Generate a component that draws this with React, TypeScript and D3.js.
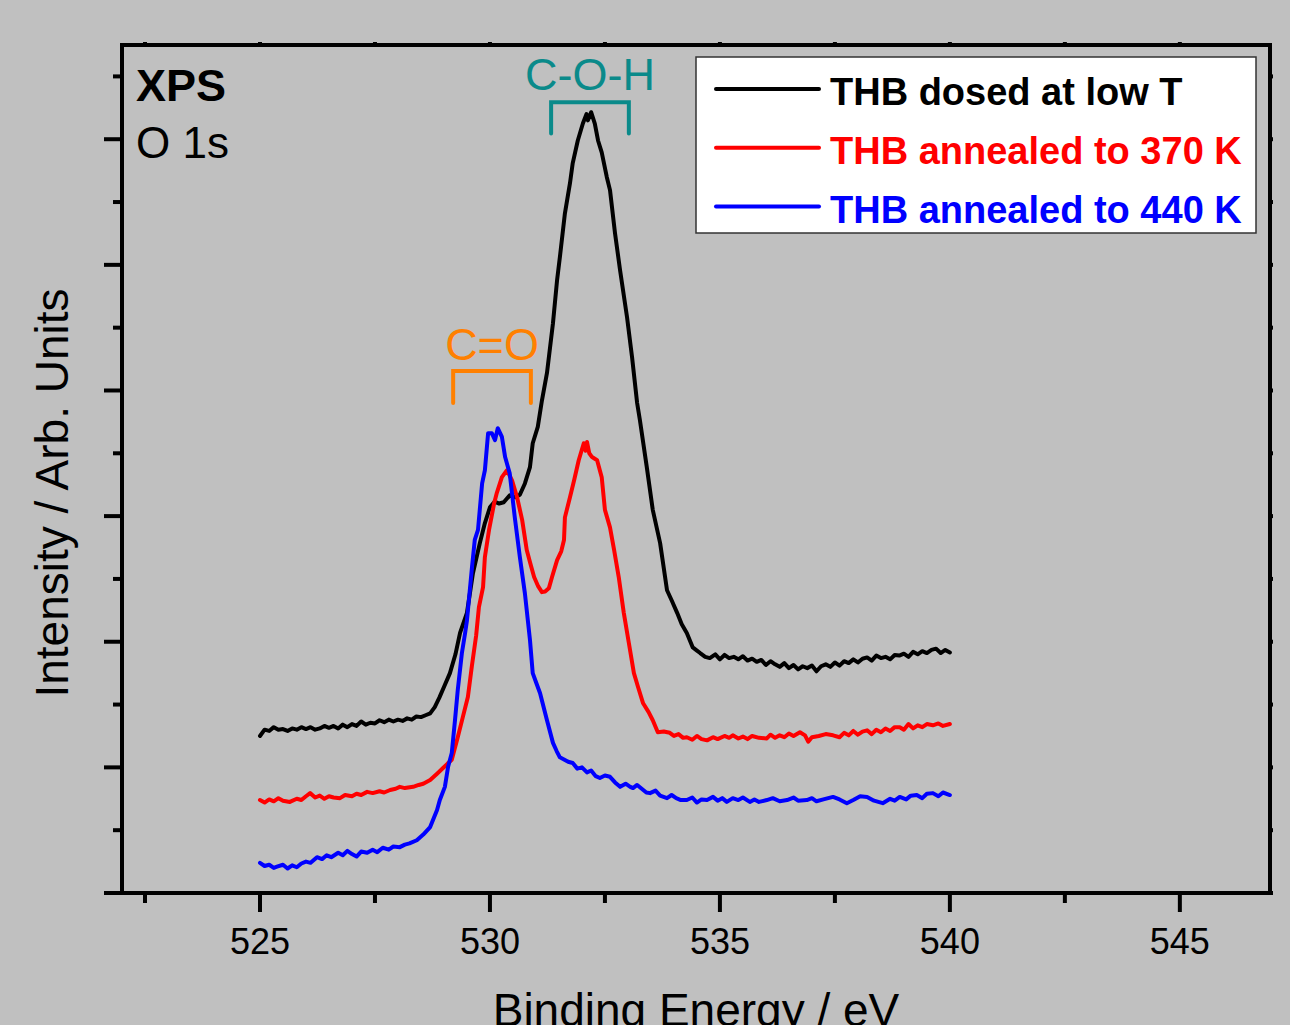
import React, { useEffect, useRef } from 'react';
import * as d3 from 'd3';

type Pt = [number, number];

// binding energy (eV), intensity (arb. units)
const dosedLowT: Pt[] = [
  [525.0, 1250], [525.1, 1300], [525.2, 1290], [525.3, 1320], [525.4, 1300], [525.5, 1305], [525.6, 1290],
  [525.7, 1310], [525.8, 1300], [525.9, 1320], [526.0, 1305], [526.1, 1320], [526.2, 1300], [526.3, 1310],
  [526.4, 1330], [526.5, 1315], [526.6, 1330], [526.7, 1310], [526.8, 1340], [526.9, 1320], [527.0, 1345],
  [527.1, 1330], [527.2, 1365], [527.3, 1340], [527.4, 1355], [527.5, 1350], [527.6, 1375], [527.7, 1360],
  [527.8, 1380], [527.9, 1365], [528.0, 1380], [528.1, 1370], [528.2, 1390], [528.3, 1380], [528.4, 1405],
  [528.5, 1400], [528.6, 1415], [528.7, 1430], [528.8, 1480], [528.9, 1555], [529.0, 1640], [529.13, 1750],
  [529.25, 1900], [529.35, 2070], [529.5, 2230], [529.63, 2545], [529.78, 2785], [529.89, 2945], [530.0, 3070],
  [530.1, 3115], [530.2, 3100], [530.3, 3110], [530.43, 3165], [530.55, 3150], [530.65, 3170], [530.76, 3260],
  [530.87, 3390], [530.93, 3580], [531.04, 3710], [531.13, 3920], [531.24, 4140], [531.37, 4535], [531.46, 4880],
  [531.52, 5060], [531.63, 5410], [531.74, 5650], [531.8, 5810], [531.91, 5990], [532.02, 6125], [532.1, 6200],
  [532.13, 6150], [532.2, 6215], [532.28, 6125], [532.35, 5990], [532.43, 5895], [532.54, 5700], [532.61, 5595],
  [532.72, 5250], [532.83, 4955], [532.98, 4585], [533.09, 4265], [533.2, 3900], [533.26, 3765], [533.41, 3390],
  [533.54, 3050], [533.7, 2785], [533.85, 2410], [533.95, 2330], [534.07, 2230], [534.17, 2140], [534.28, 2070],
  [534.41, 1955], [534.5, 1930], [534.57, 1910], [534.68, 1880], [534.78, 1870], [534.9, 1900], [535.0, 1860],
  [535.1, 1895], [535.2, 1870], [535.3, 1880], [535.4, 1860], [535.5, 1885], [535.6, 1850], [535.7, 1865],
  [535.8, 1840], [535.9, 1855], [536.0, 1815], [536.1, 1845], [536.2, 1820], [536.3, 1800], [536.4, 1830],
  [536.5, 1790], [536.6, 1815], [536.7, 1780], [536.8, 1805], [536.9, 1790], [537.0, 1810], [537.1, 1765],
  [537.2, 1805], [537.3, 1820], [537.4, 1800], [537.5, 1835], [537.6, 1810], [537.7, 1845], [537.8, 1830],
  [537.9, 1860], [538.0, 1835], [538.1, 1865], [538.2, 1875], [538.3, 1850], [538.4, 1890], [538.5, 1870],
  [538.6, 1880], [538.7, 1860], [538.8, 1895], [538.9, 1890], [539.0, 1905], [539.1, 1880], [539.2, 1920],
  [539.3, 1900], [539.4, 1925], [539.5, 1910], [539.6, 1935], [539.7, 1945], [539.8, 1910], [539.9, 1935],
  [540.0, 1915],
];

const annealed370: Pt[] = [
  [525.0, 740], [525.1, 720], [525.2, 745], [525.3, 730], [525.4, 755], [525.5, 735], [525.65, 725], [525.8, 750],
  [525.9, 740], [526.0, 770], [526.09, 795], [526.2, 760], [526.3, 775], [526.4, 750], [526.5, 770], [526.6, 760],
  [526.74, 755], [526.85, 780], [527.0, 770], [527.1, 790], [527.2, 780], [527.33, 805], [527.45, 795], [527.6, 810],
  [527.7, 800], [527.83, 820], [527.95, 830], [528.04, 845], [528.15, 835], [528.33, 845], [528.45, 860],
  [528.55, 870], [528.7, 900], [528.85, 950], [528.98, 995], [529.08, 1030], [529.17, 1060], [529.3, 1240],
  [529.41, 1400], [529.52, 1560], [529.61, 1815], [529.7, 2050], [529.76, 2275], [529.85, 2435], [529.89, 2675],
  [529.98, 2890], [530.09, 3100], [530.15, 3185], [530.26, 3310], [530.37, 3365], [530.48, 3285], [530.59, 3150],
  [530.7, 2970], [530.8, 2730], [530.88, 2620], [530.96, 2515], [531.05, 2440], [531.13, 2395], [531.2, 2400],
  [531.28, 2425], [531.35, 2515], [531.46, 2650], [531.55, 2720], [531.61, 2810], [531.63, 2990], [531.74, 3150],
  [531.83, 3285], [531.93, 3445], [532.04, 3580], [532.08, 3520], [532.11, 3590], [532.16, 3500], [532.22, 3470],
  [532.33, 3445], [532.43, 3310], [532.5, 3050], [532.61, 2910], [532.7, 2730], [532.8, 2515], [532.91, 2230],
  [533.02, 1990], [533.13, 1750], [533.22, 1640], [533.33, 1510], [533.45, 1440], [533.54, 1375], [533.65, 1280],
  [533.78, 1285], [533.91, 1275], [534.0, 1250], [534.1, 1265], [534.2, 1235], [534.28, 1240], [534.4, 1220],
  [534.5, 1250], [534.6, 1225], [534.72, 1215], [534.85, 1240], [534.95, 1225], [535.1, 1250], [535.2, 1235],
  [535.28, 1255], [535.4, 1230], [535.5, 1245], [535.6, 1225], [535.7, 1250], [535.85, 1235], [536.02, 1230],
  [536.1, 1260], [536.2, 1235], [536.3, 1255], [536.4, 1240], [536.5, 1270], [536.6, 1250], [536.74, 1280],
  [536.85, 1255], [536.92, 1205], [537.0, 1240], [537.15, 1250], [537.3, 1265], [537.46, 1255], [537.6, 1240],
  [537.7, 1275], [537.8, 1255], [537.9, 1290], [538.0, 1260], [538.1, 1285], [538.2, 1295], [538.3, 1265],
  [538.4, 1300], [538.5, 1280], [538.6, 1310], [538.7, 1290], [538.8, 1320], [538.91, 1320], [539.0, 1300],
  [539.1, 1345], [539.2, 1310], [539.3, 1335], [539.4, 1320], [539.5, 1345], [539.63, 1335], [539.75, 1350],
  [539.85, 1330], [540.0, 1345],
];

const annealed440: Pt[] = [
  [525.0, 240], [525.1, 215], [525.2, 225], [525.3, 200], [525.37, 210], [525.5, 225], [525.6, 195], [525.7, 220],
  [525.8, 205], [525.9, 235], [526.0, 250], [526.1, 240], [526.24, 285], [526.35, 270], [526.45, 300], [526.55, 285],
  [526.7, 320], [526.8, 300], [526.9, 335], [527.0, 310], [527.1, 290], [527.2, 330], [527.33, 320], [527.45, 345],
  [527.55, 325], [527.67, 360], [527.8, 345], [527.9, 370], [528.04, 365], [528.15, 385], [528.25, 395],
  [528.41, 420], [528.55, 465], [528.7, 525], [528.85, 660], [528.91, 740], [529.02, 845], [529.09, 1005],
  [529.17, 1115], [529.24, 1375], [529.3, 1615], [529.39, 1910], [529.46, 2070], [529.5, 2170], [529.61, 2595],
  [529.67, 2810], [529.74, 2890], [529.83, 3260], [529.89, 3365], [529.96, 3660], [530.04, 3660], [530.11, 3605],
  [530.17, 3700], [530.26, 3630], [530.33, 3470], [530.43, 3340], [530.54, 2990], [530.65, 2675], [530.76, 2385],
  [530.87, 2015], [530.93, 1750], [531.0, 1680], [531.09, 1590], [531.24, 1375], [531.37, 1195], [531.45, 1130],
  [531.52, 1080], [531.6, 1065], [531.7, 1045], [531.8, 1035], [531.9, 990], [532.0, 1000], [532.11, 960],
  [532.2, 975], [532.3, 930], [532.39, 915], [532.5, 935], [532.61, 925], [532.72, 880], [532.83, 845],
  [532.95, 870], [533.05, 845], [533.11, 835], [533.2, 860], [533.3, 830], [533.4, 800], [533.48, 795],
  [533.6, 815], [533.7, 775], [533.85, 755], [533.95, 780], [534.05, 755], [534.15, 740], [534.28, 740],
  [534.4, 760], [534.5, 720], [534.6, 745], [534.72, 740], [534.85, 765], [534.95, 735], [535.05, 755],
  [535.15, 725], [535.28, 755], [535.4, 740], [535.5, 760], [535.65, 725], [535.75, 745], [535.85, 725],
  [536.02, 740], [536.15, 755], [536.3, 730], [536.46, 740], [536.6, 760], [536.7, 735], [536.89, 740],
  [537.0, 755], [537.1, 730], [537.25, 745], [537.46, 765], [537.6, 745], [537.76, 715], [537.9, 740],
  [538.05, 770], [538.2, 765], [538.35, 735], [538.54, 715], [538.7, 750], [538.8, 735], [538.91, 765],
  [539.05, 745], [539.15, 775], [539.28, 780], [539.4, 755], [539.5, 790], [539.63, 795], [539.75, 770],
  [539.85, 800], [540.0, 780],
];

const seriesNames = ['THB dosed at low T', 'THB annealed to 370 K', 'THB annealed to 440 K'];
const seriesColors = ['#000000', '#ff0000', '#0000ff'];

const xMajorTicks = [525, 530, 535, 540, 545];
const xMinorTicks = [522.5, 527.5, 532.5, 537.5, 542.5];
const yMajorTicks = [0, 1000, 2000, 3000, 4000, 5000, 6000];
const yMinorTicks = [500, 1500, 2500, 3500, 4500, 5500, 6500];

// peak assignment brackets: energy span, bracket top/foot and label baseline (intensity)
const peakLabels = [
  { text: 'C-O-H', color: '#0a8a8a', from: 531.33, to: 533.02, top: 6295, foot: 6045, label: 6390 },
  { text: 'C=O', color: '#ff8000', from: 529.2, to: 530.89, top: 4155, foot: 3900, label: 4240 },
];

export default function App() {
  const svgRef = useRef<SVGSVGElement>(null);

  useEffect(() => {
    if (!svgRef.current) return;
    const svg = d3.select(svgRef.current);
    svg.selectAll('*').remove();

    const width = 1290;
    const height = 1025;
    const left = 122, right = 1270, top = 45, bottom = 893;
    const font = '"Liberation Sans", Arial, sans-serif';

    const x = d3.scaleLinear().domain([522, 546.96]).range([left, right]);
    const y = d3.scaleLinear().domain([0, 6750]).range([bottom, top]);

    svg.append('rect').attr('width', width).attr('height', height).attr('fill', '#c0c0c0');

    // curves
    const line = d3.line<Pt>()
      .x((d: Pt) => x(d[0]))
      .y((d: Pt) => y(d[1]));

    const series = [dosedLowT, annealed370, annealed440];
    series.forEach((s, i) => {
      svg.append('path')
        .datum(s)
        .attr('fill', 'none')
        .attr('stroke', seriesColors[i])
        .attr('stroke-width', 4)
        .attr('stroke-linejoin', 'round')
        .attr('stroke-linecap', 'round')
        .attr('d', line);
    });

    // ticks
    const ticks = svg.append('g').attr('stroke', '#000').attr('stroke-width', 4);
    xMajorTicks.forEach((t) => {
      ticks.append('line').attr('x1', x(t)).attr('x2', x(t)).attr('y1', bottom).attr('y2', bottom + 19);
      ticks.append('line').attr('x1', x(t)).attr('x2', x(t)).attr('y1', top).attr('y2', top - 3);
    });
    xMinorTicks.forEach((t) => {
      ticks.append('line').attr('x1', x(t)).attr('x2', x(t)).attr('y1', bottom).attr('y2', bottom + 10);
      ticks.append('line').attr('x1', x(t)).attr('x2', x(t)).attr('y1', top).attr('y2', top - 3);
    });
    yMajorTicks.forEach((t) => {
      ticks.append('line').attr('x1', left).attr('x2', left - 18).attr('y1', y(t)).attr('y2', y(t));
      ticks.append('line').attr('x1', right).attr('x2', right + 3).attr('y1', y(t)).attr('y2', y(t));
    });
    yMinorTicks.forEach((t) => {
      ticks.append('line').attr('x1', left).attr('x2', left - 9).attr('y1', y(t)).attr('y2', y(t));
      ticks.append('line').attr('x1', right).attr('x2', right + 3).attr('y1', y(t)).attr('y2', y(t));
    });

    // frame
    svg.append('rect')
      .attr('x', left).attr('y', top)
      .attr('width', right - left).attr('height', bottom - top)
      .attr('fill', 'none').attr('stroke', '#000').attr('stroke-width', 4);

    // tick labels
    svg.append('g').selectAll('text')
      .data(xMajorTicks)
      .join('text')
      .attr('x', (d: number) => x(d))
      .attr('y', 954)
      .attr('text-anchor', 'middle')
      .attr('font-family', font)
      .attr('font-size', 36)
      .text((d: number) => String(d));

    // axis titles (the x title runs off the bottom edge, as in the original figure)
    svg.append('text')
      .attr('x', (left + right) / 2).attr('y', 1026)
      .attr('text-anchor', 'middle')
      .attr('font-family', font).attr('font-size', 46)
      .text('Binding Energy / eV');

    svg.append('text')
      .attr('transform', 'translate(68,493) rotate(-90)')
      .attr('text-anchor', 'middle')
      .attr('font-family', font).attr('font-size', 46)
      .text('Intensity / Arb. Units');

    // panel labels
    svg.append('text')
      .attr('x', 136).attr('y', 101)
      .attr('font-family', font).attr('font-size', 45).attr('font-weight', 'bold')
      .text('XPS');
    svg.append('text')
      .attr('x', 136).attr('y', 158)
      .attr('font-family', font).attr('font-size', 44)
      .text('O 1s');

    // peak brackets
    peakLabels.forEach((p) => {
      const g = svg.append('g');
      g.append('path')
        .attr('d', `M${x(p.from)},${y(p.foot)}V${y(p.top)}H${x(p.to)}V${y(p.foot)}`)
        .attr('fill', 'none')
        .attr('stroke', p.color)
        .attr('stroke-width', 4)
        .attr('stroke-linecap', 'round');
      g.append('text')
        .attr('x', (x(p.from) + x(p.to)) / 2)
        .attr('y', y(p.label))
        .attr('text-anchor', 'middle')
        .attr('font-family', font).attr('font-size', 45)
        .attr('fill', p.color)
        .text(p.text);
    });

    // legend
    const legend = svg.append('g');
    legend.append('rect')
      .attr('x', 696).attr('y', 57)
      .attr('width', 560).attr('height', 176)
      .attr('fill', '#fff').attr('stroke', '#333').attr('stroke-width', 1.5);
    seriesNames.forEach((name, i) => {
      const base = 105 + i * 58.8;
      legend.append('line')
        .attr('x1', 716).attr('x2', 819)
        .attr('y1', base - 16).attr('y2', base - 16)
        .attr('stroke', seriesColors[i]).attr('stroke-width', 4)
        .attr('stroke-linecap', 'round');
      legend.append('text')
        .attr('x', 830).attr('y', base)
        .attr('font-family', font).attr('font-size', 38).attr('font-weight', 'bold')
        .attr('fill', seriesColors[i])
        .text(name);
    });
  }, []);

  return (
    <svg
      ref={svgRef}
      width={1290}
      height={1025}
      style={{ position: 'absolute', left: 0, top: 0, display: 'block' }}
    />
  );
}
